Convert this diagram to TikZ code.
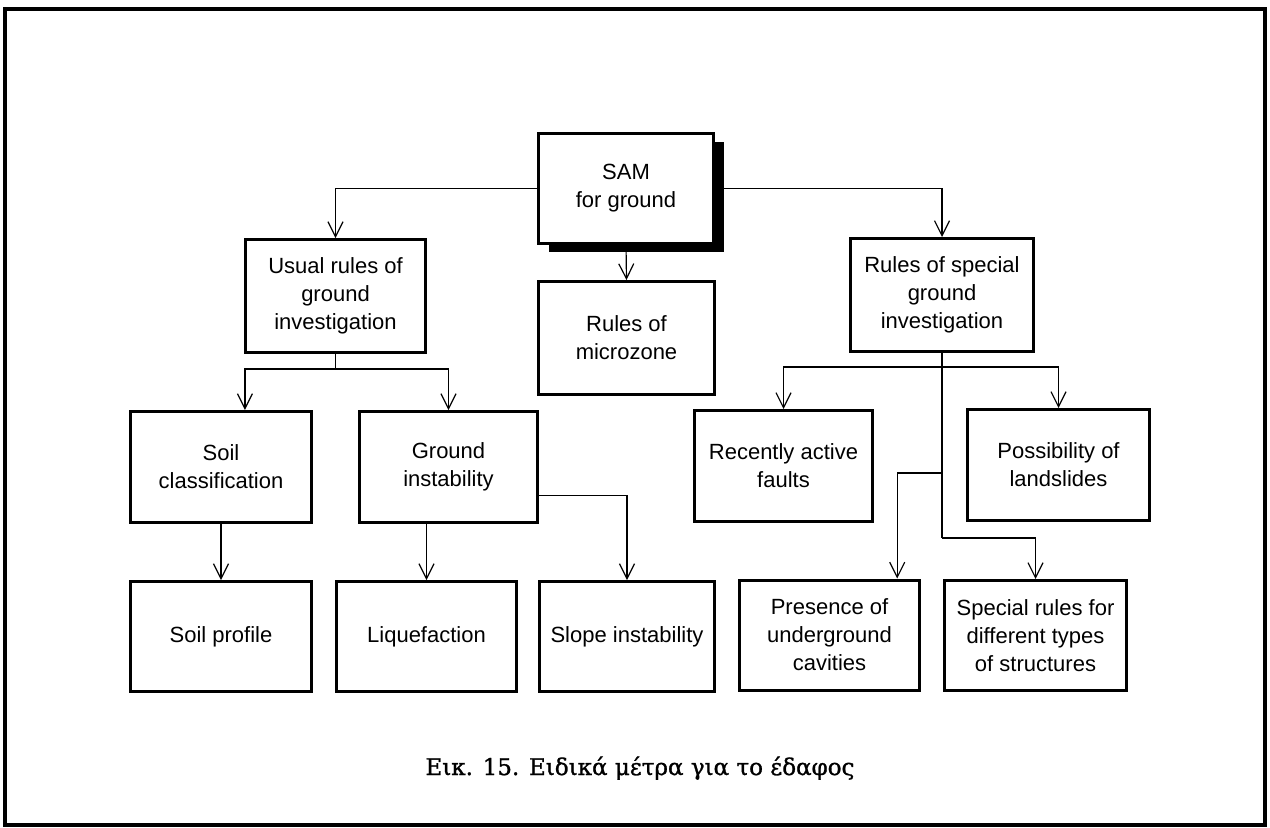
\documentclass[tikz,border=0pt]{standalone}
\usepackage{fontspec}
\newfontfamily\boxfont{Liberation Sans}
\newfontfamily\capfont[FakeBold=1.2]{DejaVu Serif}
\usetikzlibrary{arrows.meta,calc,shadows}
\begin{document}
\begin{tikzpicture}[x=0.5pt,y=-0.5pt,
  box/.style={draw,line width=1.5pt,fill=white,align=center,inner sep=0pt,
    font=\boxfont\fontsize{11}{14}\selectfont,minimum height=56.5pt},
  link/.style={line width=0.6pt,-{Straight Barb[length=7.5pt,width=7.5pt]}},
  wire/.style={line width=0.6pt}]
\useasboundingbox (0,0) rectangle (1270,827);
% outer frame
\draw[line width=1.8pt] (5,9) rectangle (1265,825);

% top level
\node[box,minimum width=87.5pt,minimum height=55pt,
  drop shadow={shadow xshift=5pt,shadow yshift=-4pt,opacity=1,fill=black}]
  (sam) at (626,188.5) {SAM\\for ground};
\node[box,minimum width=90pt] (usual) at (335.5,296) {Usual rules of\\ground\\investigation};
\node[box,minimum width=88pt] (micro) at (626.5,338) {Rules of\\microzone};
\node[box,minimum width=91.5pt] (special) at (942,295) {Rules of special\\ground\\investigation};

% second level
\node[box,minimum width=90.5pt,minimum height=55.5pt] (soilc) at (221,467) {Soil\\classification};
\node[box,minimum width=89pt,minimum height=55.5pt] (ground) at (448.5,467) {Ground\\instability};
\node[box,minimum width=89pt,minimum height=55.5pt] (recent) at (783.5,466) {Recently active\\faults};
\node[box,minimum width=91pt,minimum height=55.5pt] (possib) at (1058.5,465) {Possibility of\\landslides};

% third level
\node[box,minimum width=90.5pt,minimum height=55pt] (soilp) at (221,636.5) {Soil profile};
\node[box,minimum width=90pt,minimum height=55pt] (liq) at (426.5,636.5) {Liquefaction};
\node[box,minimum width=87.5pt,minimum height=55pt] (slope) at (627,636.5) {Slope instability};
\node[box,minimum width=90pt,minimum height=55pt] (presence) at (829.5,635) {Presence of\\underground\\cavities};
\node[box,minimum width=91pt,minimum height=55pt] (specrules) at (1035.5,635.5) {Special rules for\\different types\\of structures};

% connectors from the top box
\draw[link] (sam.west) -| (usual.north);
\draw[link] (sam.east) -| (special.north);
\draw[link] (sam.south) -- (micro.north);

% usual rules branch
\coordinate (uj) at ($(usual.south)+(0,15)$);
\draw[wire] (usual.south) -- (uj);
\draw[link] (uj) -| ($(soilc.north west)!0.63!(soilc.north east)$);
\draw[link] (uj) -| (ground.north);
\draw[link] (soilc.south) -- (soilp.north);
\draw[link] (liq.north |- ground.south) -- (liq.north);
\draw[link] ($(ground.north east)!0.75!(ground.south east)$) -| (slope.north);

% special rules branch
\coordinate (sj) at ($(special.south)+(0,14)$);
\coordinate (sk) at ($(special.south)+(0,120)$);
\coordinate (sl) at ($(special.south)+(0,185)$);
\draw[wire] (special.south) -- (sl);
\draw[link] (sj) -| (recent.north);
\draw[link] (sj) -| (possib.north);
\draw[link] (sk) -| ($(presence.north west)!0.87!(presence.north east)$);
\draw[link] (sl) -| (specrules.north);

% caption
\node[font=\capfont\fontsize{11.5}{14}\selectfont,anchor=base] (cap) at (640,775)
  {Εικ. 15. Ειδικά μέτρα για το έδαφος};
\end{tikzpicture}
\end{document}
